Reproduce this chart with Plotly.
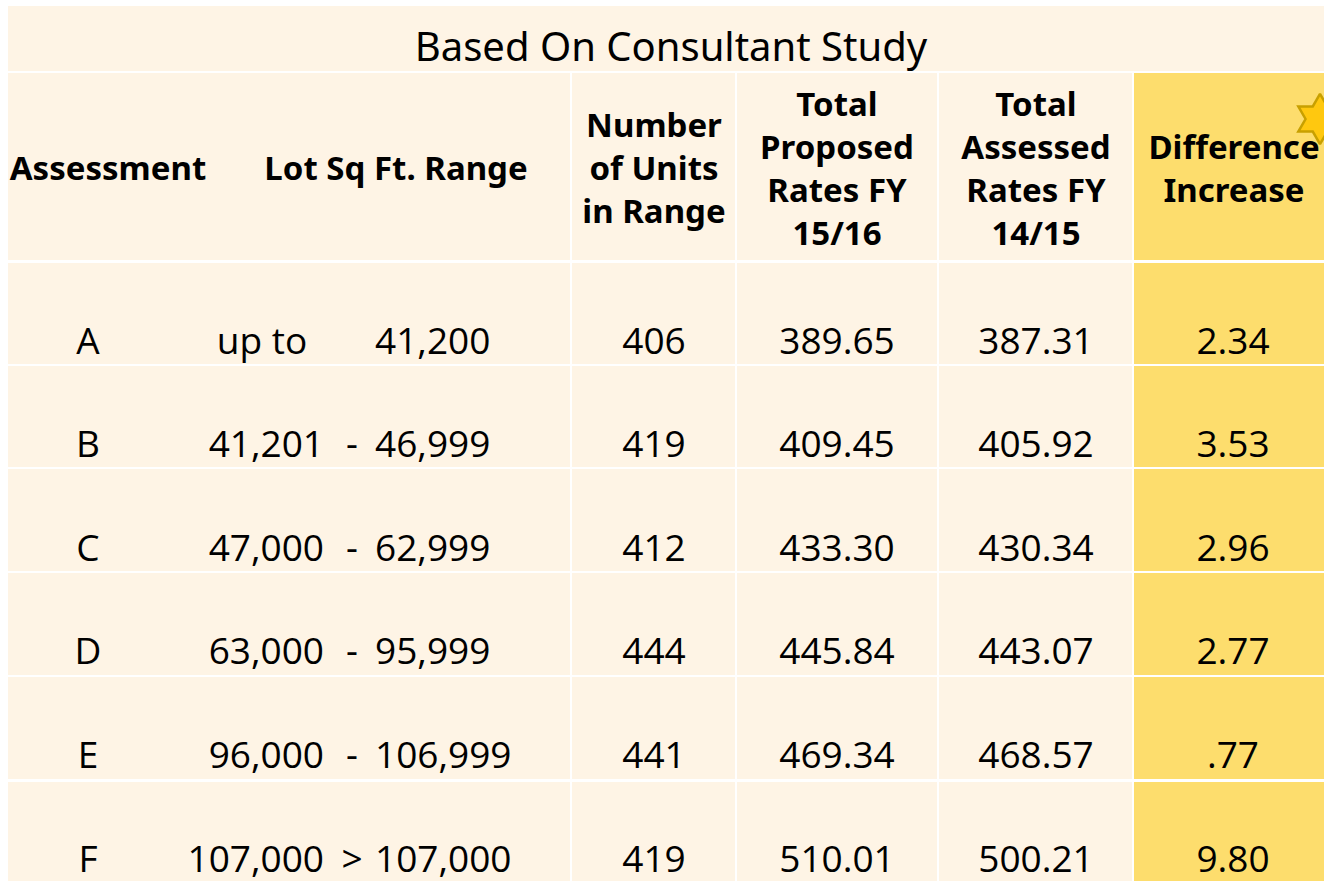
import plotly.graph_objects as go

title_text = "Based On Consultant Study"
header_labels = ["Assessment", "Lot Sq Ft. Range", "Number<br>of Units<br>in Range",
                 "Total<br>Proposed<br>Rates FY<br>15/16", "Total<br>Assessed<br>Rates FY<br>14/15",
                 "Difference<br>Increase"]
assessment = ["A", "B", "C", "D", "E", "F"]
lot_low = ["up to", "41,201", "47,000", "63,000", "96,000", "107,000"]
lot_sep = ["", "-", "-", "-", "-", ">"]
lot_high = ["41,200", "46,999", "62,999", "95,999", "106,999", "107,000"]
units = [406, 419, 412, 444, 441, 419]
proposed = [389.65, 409.45, 433.30, 445.84, 469.34, 510.01]
assessed = [387.31, 405.92, 430.34, 443.07, 468.57, 500.21]
difference = [2.34, 3.53, 2.96, 2.77, 0.77, 9.80]

CREAM = "#FEF4E5"
YELLOW = "#FDDD6D"
W, H = 1324, 881

col_edges = [(8, 570), (572, 735), (737, 937), (939, 1132), (1134, 1340)]
col_centers = [654, 837, 1036, 1233]
title_edge = (6, 71)
row_edges = [(73, 260), (263, 364), (366, 467), (469, 571), (573, 675), (677, 779), (782, 900)]

fig = go.Figure()
shapes = []
shapes.append(dict(type="rect", xref="x", yref="y", x0=8, x1=1340, y0=title_edge[0], y1=title_edge[1],
                   fillcolor=CREAM, line=dict(width=0), layer="below"))
for (r0, r1) in row_edges:
    for ci, (c0, c1) in enumerate(col_edges):
        shapes.append(dict(type="rect", xref="x", yref="y", x0=c0, x1=c1, y0=r0, y1=r1,
                           fillcolor=YELLOW if ci == 4 else CREAM, line=dict(width=0), layer="below"))

def fmt_diff(v):
    s = f"{v:.2f}"
    return s[1:] if s.startswith("0") else s

# star (behind header text)
fig.add_trace(go.Scatter(x=[1320], y=[119], mode="markers",
                         marker=dict(symbol="hexagram", size=38, color="#FFC80F",
                                     line=dict(color="#C8A000", width=2.5)),
                         hoverinfo="skip", showlegend=False))

# title
fig.add_trace(go.Scatter(x=[671], y=[51], mode="text", text=[title_text],
                         textfont=dict(family="Noto Sans", size=40, color="#000000"),
                         textposition="middle center", hoverinfo="skip", showlegend=False))

# headers
hx = [108, 396] + col_centers
hx[5] = 1234
fig.add_trace(go.Scatter(x=hx, y=[172] * 6, mode="text",
                         text=[f"<b>{h}</b>" for h in header_labels],
                         textfont=dict(family="Noto Sans", size=33, color="#000000"),
                         textposition="middle center", hoverinfo="skip", showlegend=False))

row_y = [345, 448, 552, 655, 759, 863]
dfont = dict(family="Open Sans", size=37, color="#000000")

fig.add_trace(go.Scatter(x=[88] * 6, y=row_y, mode="text", text=assessment, textfont=dfont,
                         textposition="middle center", hoverinfo="skip", showlegend=False))
# lower bound: "up to" row (no separator) centred, others right-aligned before the separator
low_x = [262 if s == "" else 324 for s in lot_sep]
low_pos = ["middle center" if s == "" else "middle left" for s in lot_sep]
fig.add_trace(go.Scatter(x=low_x, y=row_y, mode="text", text=lot_low, textfont=dfont,
                         textposition=low_pos, hoverinfo="skip", showlegend=False))
fig.add_trace(go.Scatter(x=[352] * 6, y=row_y, mode="text", text=lot_sep, textfont=dfont,
                         textposition="middle center", hoverinfo="skip", showlegend=False))
fig.add_trace(go.Scatter(x=[375] * 6, y=row_y, mode="text", text=lot_high, textfont=dfont,
                         textposition="middle right", hoverinfo="skip", showlegend=False))
cols_text = [[str(u) for u in units], [f"{v:.2f}" for v in proposed],
             [f"{v:.2f}" for v in assessed], [fmt_diff(v) for v in difference]]
for cx, txt in zip(col_centers, cols_text):
    fig.add_trace(go.Scatter(x=[cx] * 6, y=row_y, mode="text", text=txt, textfont=dfont,
                             textposition="middle center", hoverinfo="skip", showlegend=False))

fig.update_layout(
    width=W, height=H, margin=dict(l=0, r=0, t=0, b=0),
    paper_bgcolor="white", plot_bgcolor="white", shapes=shapes, showlegend=False,
    xaxis=dict(range=[0, W], visible=False, fixedrange=True),
    yaxis=dict(range=[H, 0], visible=False, fixedrange=True),
)
fig.write_html("out.html", config={"displayModeBar": False},
               post_script="document.body.style.margin='0px';document.body.style.overflow='hidden';")
